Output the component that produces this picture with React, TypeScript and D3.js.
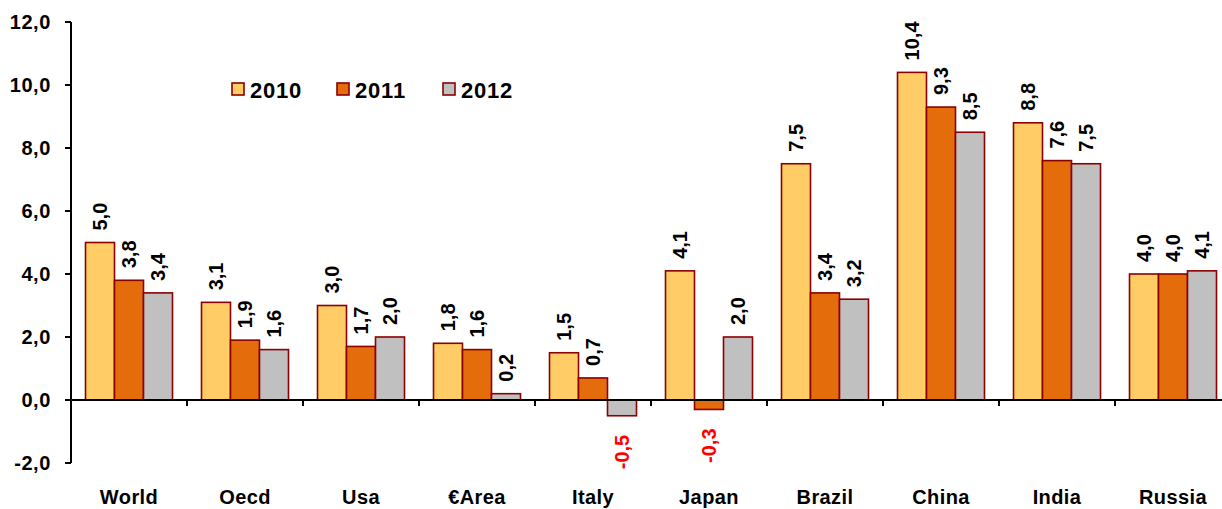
import React from "react";
import * as d3 from "d3";

const categories = ["World", "Oecd", "Usa", "€Area", "Italy", "Japan", "Brazil", "China", "India", "Russia"];
const years = ["2010", "2011", "2012"];
const values2010 = [5.0, 3.1, 3.0, 1.8, 1.5, 4.1, 7.5, 10.4, 8.8, 4.0];
const values2011 = [3.8, 1.9, 1.7, 1.6, 0.7, -0.3, 3.4, 9.3, 7.6, 4.0];
const values2012 = [3.4, 1.6, 2.0, 0.2, -0.5, 2.0, 3.2, 8.5, 7.5, 4.1];
const yTicks = [-2, 0, 2, 4, 6, 8, 10, 12];

const colors = ["#FFCC66", "#E46C0A", "#C0C0C0"];
const stroke = "#8B0000";
const font = "'Liberation Sans', Arial, sans-serif";

const fmt = (v: number) => v.toFixed(1).replace(".", ",");

export default function App() {
  const W = 1222, H = 509;
  const left = 71;
  const band = 116;
  const series = [values2010, values2011, values2012];

  const x0 = d3.scaleBand<string>().domain(categories).range([left, left + band * categories.length]).padding(0);
  const x1 = d3.scaleBand<string>().domain(years).range([0, x0.bandwidth()]).paddingInner(0).paddingOuter(0.5);
  const y = d3.scaleLinear().domain([-2, 12]).range([463, 22]);

  const bars: React.ReactNode[] = [];
  const labels: React.ReactNode[] = [];
  categories.forEach((c, i) => {
    years.forEach((yr, j) => {
      const v = series[j][i];
      const bx = (x0(c) as number) + (x1(yr) as number);
      const bw = x1.bandwidth();
      const top = y(Math.max(0, v));
      const bot = y(Math.min(0, v));
      bars.push(
        <rect key={`b-${c}-${yr}`} x={bx} y={top} width={bw} height={bot - top}
          fill={colors[j]} stroke={stroke} strokeWidth={1.6} />
      );
      const cx = bx + bw / 2 + 7;
      if (v >= 0) {
        const ly = top - 12;
        labels.push(
          <text key={`l-${c}-${yr}`} transform={`translate(${cx},${ly}) rotate(-90)`} textAnchor="start"
            fontFamily={font} fontWeight="bold" fontSize={20} fill="#000">{fmt(v)}</text>
        );
      } else {
        const ly = bot + 19;
        labels.push(
          <text key={`l-${c}-${yr}`} transform={`translate(${cx},${ly}) rotate(-90)`} textAnchor="end"
            fontFamily={font} fontWeight="bold" fontSize={20} fill="#FF0000">{fmt(v)}</text>
        );
      }
    });
  });

  const legendX = [232, 337, 443];

  return (
    <svg width={W} height={H} style={{ position: "absolute", left: 0, top: 0, background: "#fff" }}>
      <rect x={0} y={0} width={W} height={H} fill="#fff" />
      {bars}
      {/* x axis */}
      <line x1={left} x2={W + 20} y1={y(0)} y2={y(0)} stroke="#000" strokeWidth={2} />
      {categories.map((c, i) => (
        <line key={`xt-${i}`} x1={(x0(c) as number) + band} x2={(x0(c) as number) + band} y1={y(0)} y2={y(0) + 6} stroke="#000" strokeWidth={2} />
      ))}
      {/* y axis */}
      <line x1={left} x2={left} y1={y(12)} y2={y(-2)} stroke="#000" strokeWidth={2} />
      {yTicks.map((t) => (
        <g key={`yt-${t}`}>
          <line x1={left - 6} x2={left} y1={y(t)} y2={y(t)} stroke="#000" strokeWidth={2} />
          <text x={51} y={y(t)} dy="0.35em" textAnchor="end" fontFamily={font} fontWeight="bold" fontSize={20} letterSpacing={0.6} fill="#000">{fmt(t)}</text>
        </g>
      ))}
      {labels}
      {categories.map((c) => (
        <text key={`cl-${c}`} x={(x0(c) as number) + band / 2} y={504} textAnchor="middle"
          fontFamily={font} fontWeight="bold" fontSize={20} letterSpacing={0.4} fill="#000">{c}</text>
      ))}
      {years.map((yr, j) => (
        <g key={`lg-${yr}`}>
          <rect x={legendX[j]} y={83} width={12} height={12} fill={colors[j]} stroke={stroke} strokeWidth={1.6} />
          <text x={legendX[j] + 18} y={98} fontFamily={font} fontWeight="bold" fontSize={22} letterSpacing={0.8} fill="#000">{yr}</text>
        </g>
      ))}
    </svg>
  );
}
